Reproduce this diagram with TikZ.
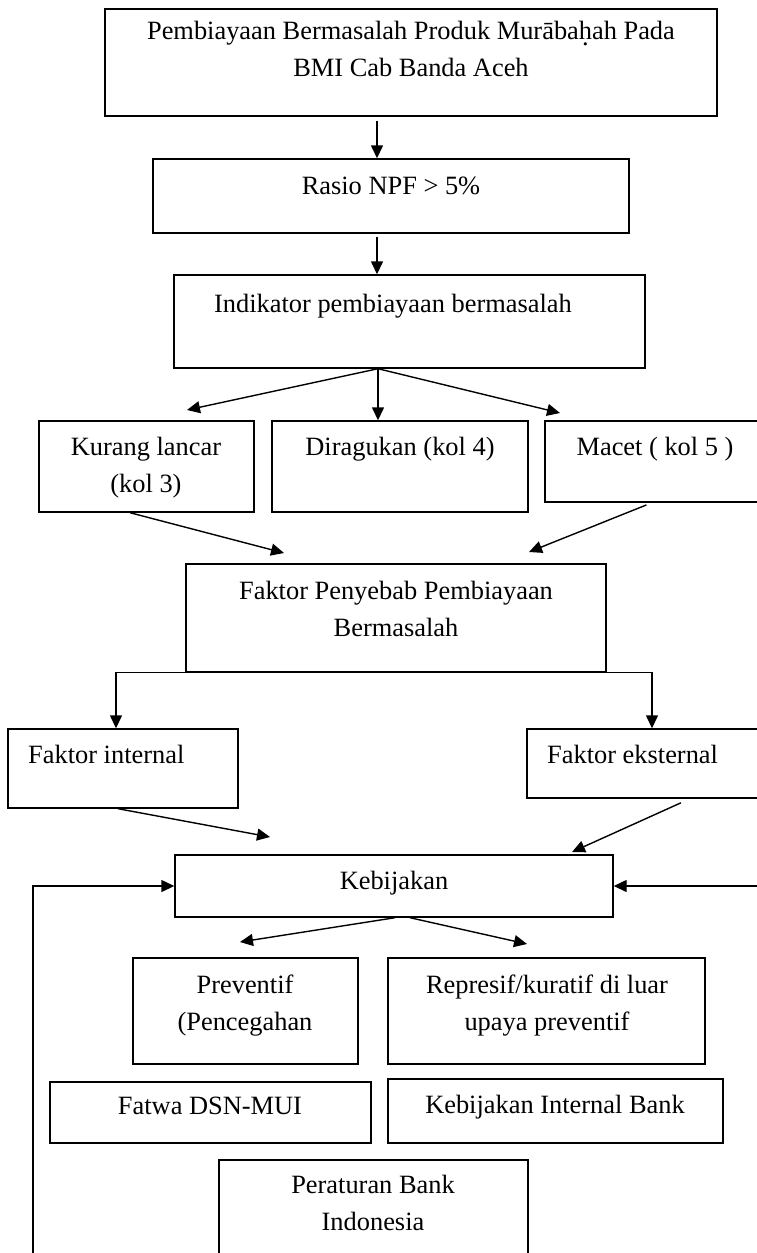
\documentclass[tikz,border=0pt]{standalone}
\usepackage{fontspec}
\setmainfont{Liberation Serif}
\usetikzlibrary{arrows.meta,fit}
\newcommand{\hdotbelow}{{\oalign{h\crcr\hidewidth.\hidewidth}}}
\begin{document}
\begin{tikzpicture}[x=1pt,y=-1pt,
  box/.style={draw,line width=1.4pt,inner sep=0pt},
  txt/.style={font=\fontsize{26.4}{37}\selectfont,align=center,inner sep=0pt,anchor=north},
  ltxt/.style={font=\fontsize{26.4}{37}\selectfont,inner sep=0pt,anchor=north west},
  arr/.style={line width=1.4pt,-{Triangle[length=13pt,width=12pt]}},
  ln/.style={line width=1.4pt}]
\clip (0,0) rectangle (757,1253);
\fill[white] (0,0) rectangle (757,1253);
% boxes
\node[box,fit={(105,9)(717,116)}] (b1) {};
\node[box,fit={(153,159)(629,233)}] (b2) {};
\node[box,fit={(174,275)(645,368)}] (b3) {};
\node[box,fit={(39,421)(254,512)}] (kl) {};
\node[box,fit={(272,421)(528,512)}] (dr) {};
\node[box,fit={(545,421)(800,502)}] (mc) {};
\node[box,fit={(186,564)(606,672)}] (fp) {};
\node[box,fit={(8,729)(238,808)}] (fi) {};
\node[box,fit={(527,729)(800,798)}] (fe) {};
\node[box,fit={(175,855)(613,917)}] (keb) {};
\node[box,fit={(133,958)(358,1064)}] (pv) {};
\node[box,fit={(388,958)(705,1064)}] (rp) {};
\node[box,fit={(50,1082)(371,1143)}] (fw) {};
\node[box,fit={(388,1079)(723,1143)}] (kib) {};
\node[box,fit={(219,1160)(528,1290)}] (pbi) {};
% texts
\node[txt] (t1) at (411,21) {Pembiayaan Bermasalah Produk Murāba\hdotbelow ah Pada\\BMI Cab Banda Aceh};
\node[txt] (t2) at (391,177) {Rasio NPF > 5\%};
\node[txt] (t3) at (393,294) {Indikator pembiayaan bermasalah};
\node[txt] (tkl) at (146,437) {Kurang lancar\\(kol 3)};
\node[txt] (tdr) at (400,437) {Diragukan (kol 4)};
\node[txt] (tmc) at (655,437) {Macet ( kol 5 )};
\node[txt] (tfp) at (396,581) {Faktor Penyebab Pembiayaan\\Bermasalah};
\node[ltxt] (tfi) at (28,745) {Faktor internal};
\node[ltxt] (tfe) at (547,745) {Faktor eksternal};
\node[txt] (tkeb) at (394,871) {Kebijakan};
\node[txt] (tpv) at (245,975) {Preventif\\(Pencegahan};
\node[txt] (trp) at (547,975) {Represif/kuratif di luar\\upaya preventif};
\node[txt] (tfw) at (210,1097) {Fatwa DSN-MUI};
\node[txt] (tkib) at (555,1095) {Kebijakan Internal Bank};
\node[txt] (tpbi) at (373,1175) {Peraturan Bank\\Indonesia};
% connectors
\draw[arr,shorten <=4pt] (377,0 |- b1.south) -- (377,0 |- b2.north);
\draw[arr,shorten <=3pt] (377,0 |- b2.south) -- (377,0 |- b3.north);
\coordinate (fl) at (187,410);
\coordinate (fr) at (560,413);
\draw[arr] (378,0 |- b3.south) -- (fl);
\draw[arr] (378,0 |- b3.south) -- (378,0 |- dr.north);
\draw[arr] (378,0 |- b3.south) -- (fr);
\coordinate (pl) at (284,553);
\coordinate (pr) at (529,552);
\draw[arr] (130,0 |- kl.south) -- (pl);
\draw[arr,shorten <=6pt] (652,0 |- mc.south) -- (pr);
\draw[arr] (fp.south west) -| (116,0 |- fi.north);
\draw[arr] (fp.south east) -| (652,0 |- fe.north);
\coordinate (kl2) at (270,837);
\coordinate (kr2) at (572,852);
\draw[arr] (118,0 |- fi.south) -- (kl2);
\draw[arr,shorten <=10pt] (690,0 |- fe.south) -- (kr2);
\draw[arr] (33,1270) |- (keb.west);
\draw[arr] (770,0 |- keb.east) -- (keb.east);
\coordinate (dl) at (240,942);
\coordinate (dr2) at (527,944);
\draw[arr] (395,0 |- keb.south) -- (dl);
\draw[arr] (410,0 |- keb.south) -- (dr2);
\end{tikzpicture}
\end{document}
